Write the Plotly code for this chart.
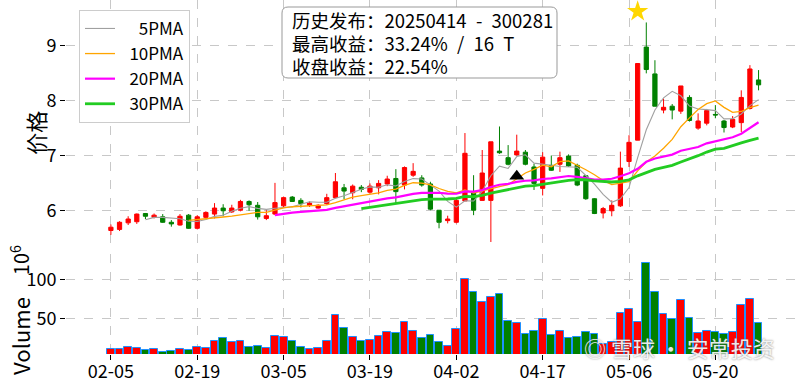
import plotly.graph_objects as go
import pandas as pd

# ---------------- data ----------------
dates = ['02-05','02-06','02-07','02-10','02-11','02-12','02-13','02-14','02-17','02-18',
         '02-19','02-20','02-21','02-24','02-25','02-26','02-27','02-28',
         '03-03','03-04','03-05','03-06','03-07','03-10','03-11','03-12','03-13','03-14',
         '03-17','03-18','03-19','03-20','03-21','03-24','03-25','03-26','03-27','03-28','03-31',
         '04-01','04-02','04-03','04-07','04-08','04-09','04-10','04-11','04-14','04-15',
         '04-16','04-17','04-18','04-21','04-22','04-23','04-24','04-25','04-28','04-29','04-30',
         '05-06','05-07','05-08','05-09','05-12','05-13','05-14','05-15','05-16','05-19',
         '05-20','05-21','05-22','05-23','05-26','05-27']

opens = [5.63,5.65,5.77,5.79,5.94,5.87,5.88,5.78,5.73,5.91,
         5.67,5.87,5.93,6.04,5.97,6.00,6.16,6.09,5.85,5.93,
         6.08,6.24,6.18,6.09,6.04,6.12,6.23,6.41,6.32,6.42,
         6.33,6.41,6.48,6.58,6.46,6.64,6.59,6.48,6.00,5.81,
         5.78,6.17,6.32,6.18,6.18,7.08,6.96,7.01,7.06,6.79,
         6.40,6.82,6.84,6.99,6.82,6.63,6.21,5.95,5.99,6.08,
         6.89,7.28,8.98,8.49,7.83,7.90,7.81,8.06,7.50,7.59,
         7.75,7.63,7.52,7.60,7.86,8.38]
highs = [5.74,5.80,5.89,5.94,5.95,5.94,5.93,5.82,5.93,5.93,
         5.91,5.98,6.13,6.11,6.10,6.19,6.18,6.15,6.00,6.50,
         6.25,6.26,6.22,6.16,6.11,6.30,6.68,6.48,6.47,6.46,
         6.49,6.55,6.63,6.75,6.80,6.86,6.64,6.52,6.00,5.90,
         6.23,7.41,6.64,7.10,7.25,7.53,7.19,7.38,7.10,6.85,
         7.06,7.00,7.07,7.02,6.85,6.64,6.22,6.06,6.18,7.07,
         7.37,8.68,9.43,8.74,8.04,7.94,8.27,8.10,7.77,7.85,
         7.92,7.65,7.72,8.19,8.65,8.56]
lows = [5.55,5.62,5.73,5.75,5.84,5.85,5.77,5.70,5.72,5.66,
        5.65,5.85,5.85,5.89,5.95,5.98,5.99,5.83,5.82,5.91,
        6.05,6.15,6.05,6.06,6.03,6.10,6.22,6.20,6.20,6.33,
        6.30,6.29,6.44,6.13,6.38,6.61,6.43,6.00,5.67,5.76,
        5.76,6.17,5.91,6.18,5.42,7.03,6.82,7.00,6.82,6.37,
        6.27,6.72,6.70,6.79,6.44,6.19,5.93,5.85,5.89,6.06,
        6.79,7.28,8.50,7.90,7.77,7.66,7.76,7.62,7.47,7.55,
        7.68,7.42,7.50,7.43,7.84,8.19]
closes = [5.69,5.78,5.84,5.93,5.89,5.91,5.78,5.75,5.89,5.67,
          5.88,5.96,6.04,5.99,6.04,6.16,6.10,5.88,5.90,6.14,
          6.23,6.16,6.12,6.13,6.09,6.23,6.52,6.35,6.44,6.38,
          6.44,6.49,6.57,6.34,6.78,6.71,6.46,6.02,5.78,5.84,
          6.18,7.04,6.00,6.68,7.25,7.05,6.84,7.08,6.84,6.49,
          6.97,6.73,6.96,6.81,6.46,6.21,5.94,6.03,6.09,6.77,
          7.24,8.68,8.57,7.90,7.88,7.83,8.27,7.64,7.63,7.82,
          7.74,7.51,7.66,8.06,8.58,8.29]
volumes = [10.6,10.6,13.6,11.5,9.4,10.6,6.8,8.1,10.6,9.4,
           13.6,11.5,21.3,25.1,19.2,20.5,13.6,14.9,11.5,26.9,
           26.0,20.5,13.6,10.6,11.5,21.3,53.8,37.2,26.0,20.5,
           21.8,26.9,32.8,31.5,45.7,34.1,25.1,28.2,19.2,14.5,
           36.3,100.0,83.7,70.5,76.9,80.8,46.5,44.4,30.3,33.3,
           48.7,28.6,33.5,25.1,26.0,32.1,29.5,17.1,19.2,56.8,
           61.5,45.7,120.5,83.3,55.5,49.1,73.9,50.0,30.8,33.7,
           32.4,29.9,32.4,67.0,75.1,43.6]  # x 10^6

tick_labels = ['02-05','02-19','03-05','03-19','04-02','04-17','05-06','05-20']
price_ticks = [6, 7, 8, 9]
volume_ticks = [50, 100]

ma_windows = [5, 10, 20, 30]
ma_names = ['\u2007\u20075PMA', '\u200710PMA', '\u200720PMA', '\u200730PMA']
ma_colors = ['#a0a0a0', '#ffa500', '#ff00ff', '#22cc22']
ma_widths = [1.1, 1.3, 2.2, 2.8]

signal_date = ['04-14']
signal_price = [6.62]
peak_date = ['05-07']
peak_marker = [9.63]

info_lines = ['历史发布：20250414\u2002-\u2002300281',
              '最高收益：33.24%\u2002/\u200216\u2002T',
              '收盘收益：22.54%']

# ---------------- figure ----------------
UP = '#ff0000'
DOWN = '#008000'
FONT = 'Noto Sans CJK SC'
GRID = '#c8c8c8'
PLOT_H = 354  # plot-area height in px (380 - bottom margin)

fig = go.Figure()

fig.add_trace(go.Candlestick(
    x=dates, open=opens, high=highs, low=lows, close=closes,
    increasing=dict(line=dict(color=UP, width=1), fillcolor=UP),
    decreasing=dict(line=dict(color=DOWN, width=1), fillcolor=DOWN),
    whiskerwidth=0, showlegend=False, hoverinfo='skip',
    xaxis='x', yaxis='y'))

close_s = pd.Series(closes)
for w, n, c, lw in zip(ma_windows, ma_names, ma_colors, ma_widths):
    ma = close_s.rolling(w).mean()
    fig.add_trace(go.Scatter(
        x=dates, y=ma, mode='lines', name=n, legendgroup=n,
        line=dict(color=c, width=lw), xaxis='x', yaxis='y'))

fig.add_trace(go.Scatter(
    x=signal_date, y=signal_price, mode='markers', showlegend=False,
    marker=dict(symbol='triangle-up', size=13, color='black'),
    xaxis='x', yaxis='y'))
fig.add_trace(go.Scatter(
    x=peak_date, y=peak_marker, mode='markers', showlegend=False,
    marker=dict(symbol='star', size=16, color='#FFD700'),
    xaxis='x', yaxis='y'))

vol_colors = [UP if c >= o else DOWN for o, c in zip(opens, closes)]
fig.add_trace(go.Bar(
    x=dates, y=volumes, width=0.9, showlegend=False,
    marker=dict(color=vol_colors, line=dict(color='#1E90FF', width=1)),
    xaxis='x2', yaxis='y2'))

xcommon = dict(type='category', range=[-5.2, 79.8], tickvals=tick_labels,
               showgrid=True, gridcolor=GRID, griddash='dash', gridwidth=1,
               zeroline=False, showline=False, automargin=False)
ycommon = dict(showgrid=True, gridcolor=GRID, griddash='dash', gridwidth=1,
               zeroline=False, showline=False, ticks='outside', ticklen=5,
               tickcolor='black', tickfont=dict(size=18), automargin=False)

fig.update_layout(
    template='none',
    width=800, height=380,
    margin=dict(l=66, r=0, t=0, b=26, pad=0, autoexpand=False),
    paper_bgcolor='white', plot_bgcolor='white',
    font=dict(family=FONT, color='black'),
    bargap=0,
    xaxis=dict(domain=[0, 1], anchor='y', showticklabels=False, matches='x2',
               rangeslider=dict(visible=False), ticks='', **xcommon),
    xaxis2=dict(domain=[0, 1], anchor='y2', ticks='outside', ticklen=5,
                tickcolor='black', tickfont=dict(size=18), ticklabelstandoff=-4,
                **xcommon),
    yaxis=dict(domain=[0.2994, 1], range=[5.31, 9.84], tickvals=price_ticks, **ycommon),
    yaxis2=dict(domain=[0, 0.2825], range=[4.2, 132.6], tickvals=volume_ticks, **ycommon),
    legend=dict(x=0.0177, y=0.972, xanchor='left', yanchor='top',
                bgcolor='white', bordercolor='#cccccc', borderwidth=1,
                font=dict(size=17), tracegroupgap=0),
    showlegend=True,
)

# rounded info box (pixel offsets from the plot-area top-left corner)
x0, x1, y0, y1, r = 216, 491, -7, -78, 6
box_path = (f'M {x0+r},{y0} L {x1-r},{y0} Q {x1},{y0} {x1},{y0-r} '
            f'L {x1},{y1+r} Q {x1},{y1} {x1-r},{y1} '
            f'L {x0+r},{y1} Q {x0},{y1} {x0},{y1+r} '
            f'L {x0},{y0-r} Q {x0},{y0} {x0+r},{y0} Z')
fig.add_shape(type='path', path=box_path, xref='paper', yref='paper',
              xsizemode='pixel', ysizemode='pixel', xanchor=0, yanchor=1,
              fillcolor='white', line=dict(color='#999999', width=1), layer='above')

for line_text, py in zip(info_lines, [20, 43, 66]):
    fig.add_annotation(xref='paper', yref='paper', x=(290 - 66) / 734,
                       y=(PLOT_H - py) / PLOT_H, xanchor='left', yanchor='middle',
                       text=line_text, showarrow=False, align='left',
                       font=dict(size=18.5))

fig.add_annotation(xref='paper', yref='paper', x=-0.0422, y=0.625,
                   xanchor='center', yanchor='middle',
                   text='价格', textangle=-90, showarrow=False, font=dict(size=22))
fig.add_annotation(xref='paper', yref='paper', x=-0.0627, y=0.051,
                   xanchor='center', yanchor='middle',
                   text='Volume', textangle=-90, showarrow=False, font=dict(size=22))
fig.add_annotation(xref='paper', yref='paper', x=-0.0627, y=0.265,
                   xanchor='center', yanchor='middle',
                   text='10<sup>6</sup>', textangle=-90, showarrow=False, font=dict(size=20))

fig.add_annotation(xref='paper', yref='paper', x=0.8365, y=0.02,
                   xanchor='center', yanchor='middle',
                   text='◎ 雪球 · 安常投资', showarrow=False,
                   font=dict(size=22, color='rgba(255,255,255,0.9)',
                             shadow='0px 0px 2px rgba(90,90,90,0.9)'))

fig.write_html('out.html', config={'displayModeBar': False},
               post_script="document.body.style.margin='0px';document.body.style.padding='0px';")
